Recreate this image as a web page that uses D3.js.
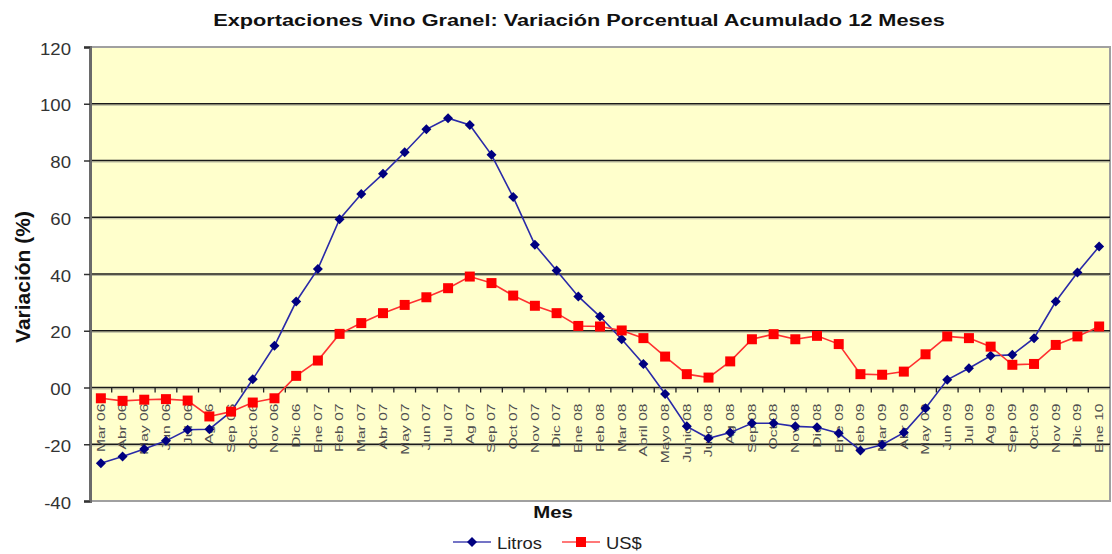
<!DOCTYPE html>
<html>
<head>
<meta charset="utf-8">
<script src="https://cdn.jsdelivr.net/npm/d3@7"></script>
<style>
  body { margin: 0; background: #fff; }
  svg { display: block; }
</style>
</head>
<body>
<svg id="chart"></svg>
<script>
// categories (months) as printed on the axis
const meses = ["Mar 06", "Abr 06", "May 06", "Jun 06", "Jul 06", "Ag 06", "Sep 06", "Oct 06", "Nov 06", "Dic 06",
    "Ene 07", "Feb 07", "Mar 07", "Abr 07", "May 07", "Jun 07", "Jul 07", "Ag 07", "Sep 07", "Oct 07", "Nov 07", "Dic 07",
    "Ene 08", "Feb 08", "Mar 08", "Abril 08", "Mayo 08", "Junio 08", "Julio 08", "Ag 08", "Sep 08", "Oct 08", "Nov 08", "Dic 08",
    "Ene 09", "Feb 09", "Mar 09", "Abr 09", "May 09", "Jun 09", "Jul 09", "Ag 09", "Sep 09", "Oct 09", "Nov 09", "Dic 09",
    "Ene 10"];

const litros = [-26.7, -24.3, -21.7, -18.8, -14.9, -14.7, -8.5, 2.9, 14.7, 30.3,
    41.8, 59.3, 68.2, 75.3, 82.9, 91.0, 94.9, 92.5, 82.0, 67.1, 50.3, 41.2,
    32.1, 25.0, 17.0, 8.3, -2.3, -13.7, -17.9, -15.9, -12.6, -12.6, -13.7, -14.0,
    -16.1, -22.2, -20.2, -15.9, -7.3, 2.7, 6.8, 11.2, 11.5, 17.4, 30.3, 40.5,
    49.7];

const usd = [-3.8, -4.7, -4.3, -4.1, -4.6, -10.2, -8.5, -5.3, -3.8, 4.1,
    9.5, 18.9, 22.7, 26.2, 29.1, 31.8, 35.0, 39.1, 36.8, 32.4, 28.8, 26.2,
    21.7, 21.5, 20.1, 17.4, 10.9, 4.7, 3.5, 9.2, 17.0, 18.8, 17.0, 18.2,
    15.3, 4.7, 4.5, 5.6, 11.7, 18.0, 17.4, 14.4, 8.0, 8.3, 15.0, 18.0,
    21.5];

const yTicks = [-40, -20, 0, 20, 40, 60, 80, 100, 120];
const yTickLabels = ["-40", "-20", "00", "20", "40", "60", "80", "100", "120"];

const width = 1112;
const height = 554;
const margin = { top: 47, right: 2, bottom: 53, left: 90 };
const chartWidth = width - margin.left - margin.right;
const chartHeight = height - margin.top - margin.bottom;
const fontFamily = "'Liberation Sans', Arial, Helvetica, sans-serif";

const svg = d3.select("#chart")
    .attr("width", width)
    .attr("height", height);

const x = d3.scaleBand()
    .domain(meses)
    .range([0, chartWidth]);

const y = d3.scaleLinear()
    .domain([-40, 120])
    .range([chartHeight, 0]);

// the picture's text is drawn a bit wider than plain Arial, so stretch it
function label(parent, tx, ty, txt, size, weight, sx, anchor, fill) {
    const g = parent.append("g")
        .attr("transform", "translate(" + tx + "," + ty + ") scale(" + sx + ",1)");
    return g.append("text")
        .attr("text-anchor", anchor)
        .style("font-family", fontFamily)
        .style("font-size", size + "px")
        .style("font-weight", weight)
        .style("fill", fill)
        .text(txt);
}

const chart = svg.append("g")
    .attr("transform", "translate(" + margin.left + "," + margin.top + ")");

// plot background + border
chart.append("rect")
    .attr("x", 0).attr("y", 0)
    .attr("width", chartWidth).attr("height", chartHeight)
    .style("fill", "#ffffcc")
    .style("stroke", "#a0a0a0")
    .style("stroke-width", 2);

// gridlines (with a faint shadow under each one)
const grid = chart.append("g");
yTicks.filter(d => d > -40 && d < 120).forEach(d => {
    grid.append("line")
        .attr("x1", 0).attr("x2", chartWidth)
        .attr("y1", y(d) + 1.5).attr("y2", y(d) + 1.5)
        .style("stroke", "#b8b8a0").style("stroke-width", 1.2);
    grid.append("line")
        .attr("x1", 0).attr("x2", chartWidth)
        .attr("y1", y(d)).attr("y2", y(d))
        .style("stroke", "#1a1a1a").style("stroke-width", 1.4);
});

// y axis: line + ticks from d3, labels drawn stretched
const yAxis = d3.axisLeft(y)
    .tickValues(yTicks)
    .tickSize(6)
    .tickFormat("");

const yg = chart.append("g")
    .call(yAxis);
yg.select(".domain").style("stroke", "#6a6a6a").style("stroke-width", 3);
yg.selectAll(".tick line").style("stroke", "#333").style("stroke-width", 1.5);

yTicks.forEach((d, i) => {
    label(chart, -19, y(d) + 7.5, yTickLabels[i], 16, "normal", 1.16, "end", "#333");
});

// tick marks between categories on the zero line
chart.append("g")
    .selectAll("line")
    .data(meses.slice(1))
    .join("line")
    .attr("x1", d => x(d)).attr("x2", d => x(d))
    .attr("y1", y(0)).attr("y2", y(0) + 5)
    .style("stroke", "#222").style("stroke-width", 1.3);

const cx = d => x(d) + x.bandwidth() / 2;

// rotated month labels, elongated along the reading direction
chart.append("g")
    .selectAll("text")
    .data(meses)
    .join("text")
    .attr("transform", d => "translate(" + cx(d) + "," + (y(0) + 16) + ") rotate(-90) scale(1.42,1)")
    .attr("text-anchor", "end")
    .attr("dy", "0.35em")
    .style("font-family", fontFamily)
    .style("font-size", "11px")
    .style("fill", "#505050")
    .text(d => d);

const series = [
    { name: "Litros", values: litros, line: "#2a2aa8", mark: "#000080", symbol: d3.symbolSquare, size: 50, rot: 45 },
    { name: "US$", values: usd, line: "#ff3030", mark: "#ff0000", symbol: d3.symbolSquare, size: 100, rot: 0 }
];

series.forEach(s => {
    const lineGen = d3.line()
        .x((d, i) => cx(meses[i]))
        .y(d => y(d));

    chart.append("path")
        .datum(s.values)
        .style("fill", "none")
        .style("stroke", s.line)
        .style("stroke-width", 1.6)
        .attr("d", lineGen);

    chart.append("g")
        .selectAll("path")
        .data(s.values)
        .join("path")
        .attr("transform", (d, i) => "translate(" + cx(meses[i]) + "," + y(d) + ") rotate(" + s.rot + ")")
        .attr("d", d3.symbol().type(s.symbol).size(s.size))
        .style("fill", s.mark);
});

// title, stretched to the width it has in the picture
const title = label(svg, 579, 26, "Exportaciones Vino Granel: Variación Porcentual Acumulado 12 Meses", 17, "bold", 1, "middle", "#111");
const titleW = title.node().getComputedTextLength();
d3.select(title.node().parentNode).attr("transform", "translate(579,26) scale(" + (732 / titleW) + ",1)");

// axis titles
svg.append("text")
    .attr("transform", "translate(30," + (margin.top + chartHeight / 2 + 3) + ") rotate(-90)")
    .attr("text-anchor", "middle")
    .style("font-family", fontFamily)
    .style("font-size", "21px")
    .style("font-weight", "bold")
    .style("fill", "#111")
    .text("Variación (%)");

label(svg, 553, 518, "Mes", 17, "bold", 1.2, "middle", "#111");

// legend
const legendItems = [
    { s: series[0], x: 453 },
    { s: series[1], x: 562 }
];
legendItems.forEach(item => {
    const g = svg.append("g").attr("transform", "translate(" + item.x + ",542)");
    g.append("line")
        .attr("x1", 0).attr("x2", 38)
        .attr("y1", 0).attr("y2", 0)
        .style("stroke", item.s.line).style("stroke-opacity", 0.65)
        .style("stroke-width", 1.8);
    g.append("path")
        .attr("transform", "translate(19,0) rotate(" + item.s.rot + ")")
        .attr("d", d3.symbol().type(item.s.symbol).size(item.s.size))
        .style("fill", item.s.mark);
    label(g, 44, 6.5, item.s.name, 16, "normal", 1.15, "start", "#222");
});
</script>
</body>
</html>
